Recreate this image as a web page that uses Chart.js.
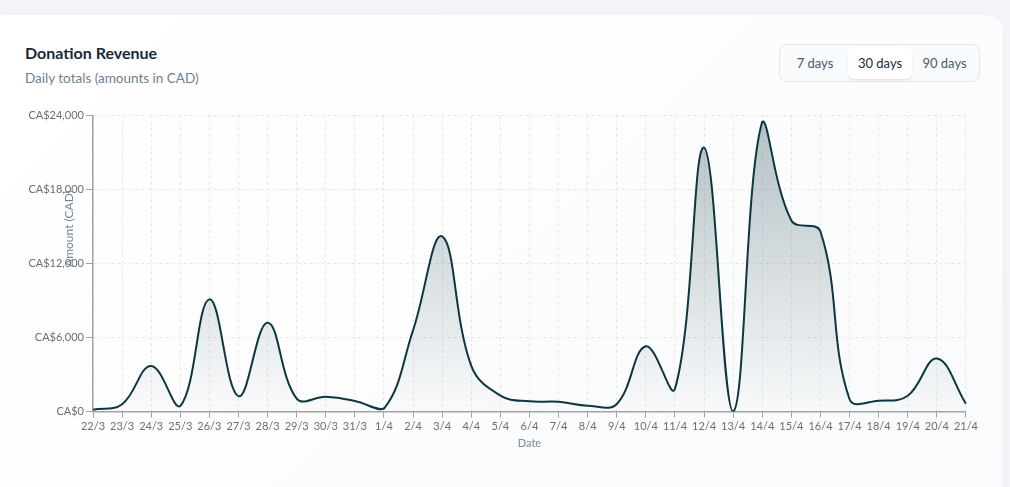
<!DOCTYPE html>
<html>
<head>
<meta charset="utf-8">
<script src="https://cdn.jsdelivr.net/npm/chart.js@4.4.1/dist/chart.umd.min.js"></script>
<style>
  html, body { margin: 0; padding: 0; }
  body {
    width: 1010px; height: 487px; overflow: hidden;
    background: #f3f4f7;
    font-family: Lato, "Noto Sans", sans-serif;
  }
  .card {
    position: absolute; left: -12px; top: 15px;
    width: 1015px; height: 500px;
    box-sizing: border-box;
    padding: 27px 23px 0 37px;
    background: linear-gradient(135deg, #ffffff 0%, #fdfdfe 45%, #f9fafb 100%);
    border-radius: 16px;
    box-shadow: 0 1px 3px rgba(15, 23, 42, 0.06);
  }
  .head { display: flex; justify-content: space-between; align-items: flex-start; }
  .title { font-size: 16px; font-weight: 700; color: #1a2838; line-height: 22px; }
  .sub { margin-top: 4px; font-size: 13.5px; color: #6f8190; line-height: 20px; }
  .range {
    margin-top: 2px;
    display: flex; padding: 2px;
    border: 1px solid #e1e7ef; border-radius: 8px;
    background: #f8fafc;
  }
  .range span {
    display: block; height: 32px; line-height: 32px;
    font-size: 13px; color: #4a5a6a; text-align: center;
    border-radius: 6px;
  }
  .range span.r7 { width: 66px; }
  .range span.r30 { width: 64px; }
  .range span.r90 { width: 65px; }
  .range span.on { background: #ffffff; color: #1c2a3a; box-shadow: 0 1px 2px rgba(15, 23, 42, 0.12); }
  .wrap { position: relative; margin-top: 19px; width: 955px; height: 343px; }
</style>
</head>
<body>
<div class="card">
  <div class="head">
    <div>
      <div class="title">Donation Revenue</div>
      <div class="sub">Daily totals (amounts in CAD)</div>
    </div>
    <div class="range">
      <span class="r7">7 days</span>
      <span class="r30 on">30 days</span>
      <span class="r90">90 days</span>
    </div>
  </div>
  <div class="wrap"><canvas id="revenueChart"></canvas></div>
</div>
<script>
  // datos
  const dates = [
    "22/3", "23/3", "24/3", "25/3", "26/3", "27/3", "28/3", "29/3", "30/3", "31/3",
    "1/4", "2/4", "3/4", "4/4", "5/4", "6/4", "7/4", "8/4", "9/4", "10/4",
    "11/4", "12/4", "13/4", "14/4", "15/4", "16/4", "17/4", "18/4", "19/4", "20/4", "21/4"
  ];
  const amounts = [
    150, 600, 3700, 450, 9100, 1250, 7200, 1050, 1200, 860,
    250, 6600, 14200, 3700, 1300, 830, 800, 480, 620, 5300,
    1850, 21400, 0, 23500, 15500, 14600, 1000, 880, 1280, 4300, 640
  ];
  const yTicks = [0, 6000, 12000, 18000, 24000];

  const LINE = "#0c3740";
  const GRID = "#e0e6ee";
  const AXIS = "#a3a3a3";
  const TICK_TEXT = "#6e6e6e";

  const fmt = v => "CA$" + Number(v).toLocaleString("en-US");

  // titulo del eje Y dibujado a mano (queda sobre las etiquetas como en el original)
  const yTitle = {
    id: "yTitle",
    afterDraw(chart) {
      const c = chart.ctx;
      c.save();
      c.translate(44, chart.chartArea.top + 113);
      c.rotate(-Math.PI / 2);
      c.font = "12px Lato, 'Noto Sans', sans-serif";
      c.fillStyle = "#74879a";
      c.textAlign = "center";
      c.textBaseline = "middle";
      c.fillText("Amount (CAD)", 0, 0);
      c.restore();
    }
  };

  new Chart(document.getElementById("revenueChart"), {
    type: "line",
    data: {
      labels: dates,
      datasets: [{
        data: amounts,
        borderColor: LINE,
        borderWidth: 2,
        pointRadius: 0,
        tension: 0.4,
        fill: true,
        backgroundColor: (context) => {
          const { ctx, chartArea } = context.chart;
          if (!chartArea) return "rgba(12,55,64,0.15)";
          const g = ctx.createLinearGradient(0, chartArea.top, 0, chartArea.bottom);
          g.addColorStop(0, "rgba(12,55,64,0.30)");
          g.addColorStop(1, "rgba(12,55,64,0.01)");
          return g;
        }
      }]
    },
    options: {
      responsive: true,
      maintainAspectRatio: false,
      animation: false,
      layout: { padding: 0 },
      plugins: {
        legend: { display: false },
        tooltip: { enabled: false }
      },
      scales: {
        x: {
          grid: {
            color: GRID,
            tickColor: AXIS,
            tickLength: 6,
            offset: false
          },
          border: { color: AXIS, width: 1.5, dash: [3, 3] },
          ticks: {
            color: TICK_TEXT,
            padding: 2,
            maxRotation: 0,
            autoSkip: false,
            font: { family: "Lato", size: 11 }
          },
          title: {
            display: true,
            text: "Date",
            color: "#74879a",
            padding: { top: 2, bottom: 0 },
            font: { family: "Lato", size: 11 }
          }
        },
        y: {
          min: 0,
          max: 24000,
          afterFit: (scale) => { scale.width = 68; },
          afterBuildTicks: (scale) => {
            scale.ticks = yTicks.map(v => ({ value: v }));
          },
          grid: {
            color: GRID,
            tickColor: AXIS,
            tickLength: 7
          },
          border: { color: AXIS, width: 1.5, dash: [3, 3] },
          ticks: {
            color: TICK_TEXT,
            padding: 2,
            font: { family: "Lato", size: 11 },
            callback: v => fmt(v)
          }
        }
      }
    },
    plugins: [yTitle]
  });
</script>
</body>
</html>
